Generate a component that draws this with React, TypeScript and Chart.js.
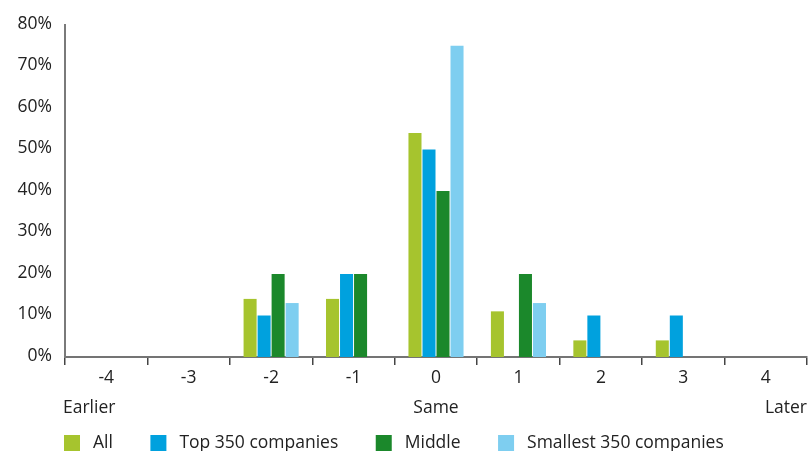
import React, { useEffect, useRef } from "react";
import { Chart, registerables } from "chart.js";

Chart.register(...registerables);

// Categories: years earlier (-) / later (+) relative to the same point
const categories = ["-4", "-3", "-2", "-1", "0", "1", "2", "3", "4"];

// Share of companies per category, in percent
const allValues = [0, 0, 14, 14, 54, 11, 4, 4, 0];
const top350Values = [0, 0, 10, 20, 50, 0, 10, 10, 0];
const middleValues = [0, 0, 20, 20, 40, 20, 0, 0, 0];
const smallest350Values = [0, 0, 13, 0, 75, 13, 0, 0, 0];

const seriesNames = ["All", "Top 350 companies", "Middle", "Smallest 350 companies"];
const seriesColors = ["#a6c42e", "#00a1de", "#1b882b", "#7ecef0"];

// y axis range and tick step
const yMax = 80;
const yStep = 10;

// Direction captions under the x axis
const earlierLabel = "Earlier";
const sameLabel = "Same";
const laterLabel = "Later";

const FONT = "'Open Sans', 'Noto Sans', sans-serif";
const FONT_SIZE = 17.5;
const TEXT = "#222222";

const captionsAndLegend = {
  id: "captionsAndLegend",
  afterDraw(chart: Chart) {
    const { ctx, chartArea } = chart;
    const x = chart.scales.x;
    ctx.save();
    ctx.fillStyle = TEXT;
    ctx.font = `${FONT_SIZE}px ${FONT}`;
    ctx.textBaseline = "middle";

    // Earlier / Same / Later row
    const rowY = chartArea.bottom + 51;
    ctx.textAlign = "left";
    ctx.fillText(earlierLabel, chartArea.left - 2, rowY);
    ctx.textAlign = "center";
    ctx.fillText(sameLabel, x.getPixelForValue(categories.indexOf("0")), rowY);
    ctx.textAlign = "right";
    ctx.fillText(laterLabel, chartArea.right, rowY);

    // Legend row
    const box = 16;
    const boxTop = chartArea.bottom + 78;
    let lx = chartArea.left - 1;
    ctx.textAlign = "left";
    seriesNames.forEach((name, i) => {
      ctx.fillStyle = seriesColors[i];
      ctx.fillRect(lx, boxTop, box, box);
      ctx.fillStyle = TEXT;
      const tx = lx + box + 13;
      ctx.fillText(name, tx, boxTop + box / 2);
      lx = tx + ctx.measureText(name).width + 37.5;
    });
    ctx.restore();
  },
};

export default function App() {
  const canvasRef = useRef<HTMLCanvasElement | null>(null);

  useEffect(() => {
    if (!canvasRef.current) return;
    const series = [allValues, top350Values, middleValues, smallest350Values];
    const chart = new Chart(canvasRef.current, {
      type: "bar",
      data: {
        labels: categories,
        datasets: series.map((values, i) => ({
          label: seriesNames[i],
          data: values,
          backgroundColor: seriesColors[i],
          borderWidth: 0,
          categoryPercentage: 0.68,
          barPercentage: 0.93,
        })),
      },
      options: {
        responsive: false,
        animation: false,
        devicePixelRatio: 1,
        layout: { padding: { top: 25, right: 1, left: 0, bottom: 0 } },
        plugins: {
          legend: { display: false },
          tooltip: { enabled: false },
        },
        scales: {
          x: {
            z: 1,
            offset: true,
            grid: {
              display: true,
              offset: true,
              drawOnChartArea: false,
              drawTicks: true,
              tickLength: 8,
              color: "#444444",
              lineWidth: 1.5,
            },
            border: { display: true, color: "rgba(70,70,70,0.75)", width: 2 },
            ticks: {
              color: TEXT,
              font: { family: FONT, size: FONT_SIZE },
              padding: 3,
              maxRotation: 0,
            },
            afterFit(scale: any) {
              scale.height = 94;
            },
          },
          y: {
            min: 0,
            max: yMax,
            grid: { display: false, drawTicks: false },
            border: { display: true, color: "#7a7a7a", width: 2 },
            ticks: {
              stepSize: yStep,
              color: TEXT,
              font: { family: FONT, size: FONT_SIZE },
              padding: 13,
              labelOffset: -1,
              callback: (v: any) => `${v}%`,
            },
            afterFit(scale: any) {
              scale.width = 65;
            },
          },
        },
      },
      plugins: [captionsAndLegend],
    });
    return () => chart.destroy();
  }, []);

  return (
    <div style={{ position: "fixed", left: 0, top: 0, width: 808, height: 451, background: "#fff" }}>
      <canvas ref={canvasRef} width={808} height={451} style={{ display: "block", width: 808, height: 451 }} />
    </div>
  );
}
